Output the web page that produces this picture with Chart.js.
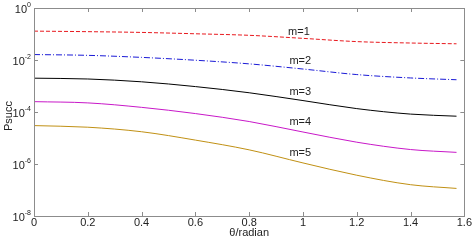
<!DOCTYPE html>
<html>
<head>
<meta charset="utf-8">
<script src="https://cdn.jsdelivr.net/npm/chart.js@4.4.1/dist/chart.umd.min.js"></script>
<style>
  html, body { margin: 0; padding: 0; background: #fff; }
  #wrap { width: 472px; height: 241px; }
</style>
</head>
<body>
<div id="wrap"><canvas id="chart" width="472" height="241"></canvas></div>
<script>
const theta = [0, 0.2, 0.4, 0.6, 0.8, 1.0, 1.2, 1.4, 1.5708];
const m1 = [0.129, 0.123, 0.115, 0.102, 0.089, 0.068, 0.051, 0.045, 0.042];
const m2 = [0.0162, 0.0151, 0.0126, 0.0098, 0.0071, 0.0045, 0.00275, 0.00204, 0.00174];
const m3 = [2.0e-3, 1.86e-3, 1.45e-3, 9.5e-4, 5.5e-4, 2.75e-4, 1.35e-4, 8.3e-5, 6.9e-5];
const m4 = [2.5e-4, 2.24e-4, 1.51e-4, 8.7e-5, 4.3e-5, 1.7e-5, 6.9e-6, 3.6e-6, 2.8e-6];
const m5 = [3.0e-5, 2.6e-5, 1.74e-5, 8.3e-6, 3.5e-6, 1.1e-6, 3.7e-7, 1.6e-7, 1.15e-7];

const seriesNames = ['m=1', 'm=2', 'm=3', 'm=4', 'm=5'];
const seriesColors = ['#e8191e', '#1a1ad6', '#000000', '#c818c8', '#c09014'];
const seriesDash = [[4, 2], [6, 2, 1, 2], [], [], []];
const labelTheta = [0.985, 0.99, 0.99, 0.99, 0.99];
const labelValue = [0.115, 0.0089, 6.0e-4, 4.1e-5, 2.7e-6];

const yTicks = [1, 1e-2, 1e-4, 1e-6, 1e-8];
const yExp = ['0', '-2', '-4', '-6', '-8'];
const FONT = '"Liberation Sans", Arial, sans-serif';

const allSeries = [m1, m2, m3, m4, m5];
const datasets = allSeries.map((vals, i) => ({
  label: seriesNames[i],
  data: theta.map((t, k) => ({ x: t, y: vals[k] })),
  borderColor: seriesColors[i],
  borderWidth: 1,
  borderDash: seriesDash[i],
  pointRadius: 0,
  cubicInterpolationMode: 'monotone',
  fill: false
}));

const framePlugin = {
  id: 'frame',
  afterDraw(chart) {
    const ctx = chart.ctx;
    const a = chart.chartArea;
    const xs = chart.scales.x;
    const ys = chart.scales.y;
    ctx.save();
    ctx.strokeStyle = '#8c8c8c';
    ctx.lineWidth = 1;
    ctx.strokeRect(Math.round(a.left) + 0.5, Math.round(a.top) + 0.5,
      Math.round(a.right - a.left), Math.round(a.bottom - a.top));
    ctx.beginPath();
    for (let v = 0.2; v < 1.59; v += 0.2) {
      const px = Math.round(xs.getPixelForValue(v)) + 0.5;
      ctx.moveTo(px, a.bottom); ctx.lineTo(px, a.bottom - 4);
      ctx.moveTo(px, a.top); ctx.lineTo(px, a.top + 4);
    }
    yTicks.slice(1, 4).forEach((v) => {
      const py = Math.round(ys.getPixelForValue(v)) + 0.5;
      ctx.moveTo(a.left, py); ctx.lineTo(a.left + 4, py);
      ctx.moveTo(a.right, py); ctx.lineTo(a.right - 4, py);
    });
    ctx.stroke();

    // y tick labels as 10 with superscript exponent
    ctx.fillStyle = '#222';
    ctx.textBaseline = 'alphabetic';
    yTicks.forEach((v, i) => {
      const py = ys.getPixelForValue(v);
      ctx.font = '7px ' + FONT;
      ctx.textAlign = 'left';
      const ew = ctx.measureText(yExp[i]).width;
      const ex = a.left - 3 - ew;
      ctx.fillText(yExp[i], ex, py - 1);
      ctx.font = '11px ' + FONT;
      ctx.textAlign = 'right';
      ctx.fillText('10', ex, py + 5);
    });

    // y axis title
    ctx.save();
    ctx.translate(9, 116);
    ctx.rotate(-Math.PI / 2);
    ctx.font = '11px ' + FONT;
    ctx.textAlign = 'center';
    ctx.textBaseline = 'middle';
    ctx.fillText('Psucc', 0, 0);
    ctx.restore();

    // series labels
    ctx.font = '11px ' + FONT;
    ctx.textAlign = 'center';
    ctx.textBaseline = 'middle';
    seriesNames.forEach((n, i) => {
      ctx.fillText(n, xs.getPixelForValue(labelTheta[i]), ys.getPixelForValue(labelValue[i]));
    });
    ctx.restore();
  }
};

new Chart(document.getElementById('chart'), {
  type: 'line',
  data: { datasets },
  options: {
    responsive: false,
    animation: false,
    layout: { padding: { top: 8, right: 7, left: 0, bottom: 0 } },
    plugins: { legend: { display: false }, tooltip: { enabled: false } },
    scales: {
      x: {
        type: 'linear',
        min: 0,
        max: 1.6,
        grid: { display: false, drawTicks: false },
        border: { display: false },
        ticks: {
          stepSize: 0.2,
          color: '#222',
          padding: 0,
          maxRotation: 0,
          font: { family: FONT, size: 11 },
          callback: (v) => String(Math.round(v * 10) / 10)
        },
        title: {
          display: true,
          text: 'θ/radian',
          color: '#222',
          padding: { top: 0, bottom: 1 },
          font: { family: FONT, size: 11 }
        },
        afterFit(scale) { scale.height = 25; }
      },
      y: {
        type: 'logarithmic',
        min: 1e-8,
        max: 1,
        grid: { display: false, drawTicks: false },
        border: { display: false },
        ticks: { display: false },
        afterBuildTicks(scale) { scale.ticks = yTicks.map((v) => ({ value: v })); },
        afterFit(scale) { scale.width = 34; }
      }
    }
  },
  plugins: [framePlugin]
});
</script>
</body>
</html>
